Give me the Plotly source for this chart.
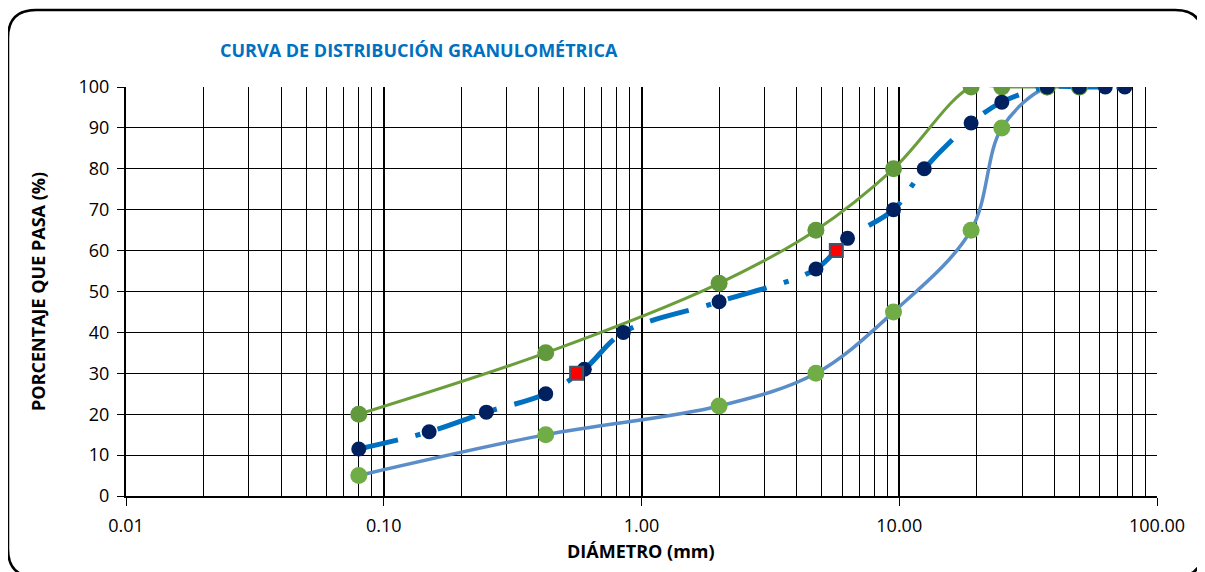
import plotly.graph_objects as go

# ---------------- data ----------------
sample_d = [0.08, 0.15, 0.25, 0.425, 0.6, 0.85, 2.0, 4.75, 6.3, 9.5, 12.5, 19.0, 25.0, 37.5, 50.0, 63.0, 75.0]
sample_p = [11.5, 15.7, 20.5, 25.0, 31.0, 40.0, 47.5, 55.5, 63.0, 70.0, 80.0, 91.2, 96.3, 100, 100, 100, 100]

upper_d = [0.08, 0.425, 2.0, 4.75, 9.5, 19.0, 25.0, 37.5, 50.0]
upper_p = [20, 35, 52, 65, 80, 100, 100, 100, 100]

lower_d = [0.08, 0.425, 2.0, 4.75, 9.5, 19.0, 25.0, 37.5, 50.0]
lower_p = [5, 15, 22, 30, 45, 65, 90, 100, 100]

dx_d = [0.56, 5.7]
dx_p = [30, 60]

x_tickvals = [0.01, 0.1, 1, 10, 100]
x_ticktext = ["0.01", "0.10", "1.00", "10.00", "100.00"]
y_tickvals = [0, 10, 20, 30, 40, 50, 60, 70, 80, 90, 100]

FONT = "Open Sans"
OFF = 8  # page body margin

fig = go.Figure()

# lower limit curve
fig.add_trace(go.Scatter(x=lower_d, y=lower_p, mode="lines",
                         line=dict(color="#5B8EC8", width=3.5, shape="spline", smoothing=1.0),
                         hoverinfo="skip", showlegend=False))
# upper limit curve
fig.add_trace(go.Scatter(x=upper_d, y=upper_p, mode="lines",
                         line=dict(color="#6A9E3A", width=3, shape="spline", smoothing=1.0),
                         hoverinfo="skip", showlegend=False))
# sample curve
fig.add_trace(go.Scatter(x=sample_d, y=sample_p, mode="lines",
                         line=dict(color="#0070C0", width=5, shape="spline", smoothing=1.0,
                                   dash="40px,18px,5px,18px"),
                         hoverinfo="skip", showlegend=False))
# markers
fig.add_trace(go.Scatter(x=lower_d, y=lower_p, mode="markers",
                         marker=dict(color="#70AD47", size=17, line=dict(width=0)),
                         showlegend=False))
fig.add_trace(go.Scatter(x=upper_d, y=upper_p, mode="markers",
                         marker=dict(color="#62993C", size=17, line=dict(width=0)),
                         showlegend=False))
fig.add_trace(go.Scatter(x=sample_d, y=sample_p, mode="markers",
                         marker=dict(color="#002060", size=15, line=dict(width=0)),
                         showlegend=False))
fig.add_trace(go.Scatter(x=dx_d, y=dx_p, mode="markers",
                         marker=dict(color="#FF0000", size=13, symbol="square",
                                     line=dict(color="#44546A", width=2)),
                         showlegend=False))

# plot area geometry in screen px (reference), converted to figure px
L, R, T, B = 126 - OFF, 1157 - OFF, 87 - OFF, 496 - OFF
W, H = 1205, 572
pw, ph = R - L, B - T


def px2paper(x, y):
    x, y = x - OFF, y - OFF
    return (x - L) / pw, (B - y) / ph


# rounded border
x0, y0, x1, y1, r = 8, 10, 1203, 577, 28


def P(x, y):
    px, py = px2paper(x, y)
    return f"{px:.5f},{py:.5f}"


path = (f"M {P(x0 + r, y0)} L {P(x1 - r, y0)} Q {P(x1, y0)} {P(x1, y0 + r)} "
        f"L {P(x1, y1 - r)} Q {P(x1, y1)} {P(x1 - r, y1)} "
        f"L {P(x0 + r, y1)} Q {P(x0, y1)} {P(x0, y1 - r)} "
        f"L {P(x0, y0 + r)} Q {P(x0, y0)} {P(x0 + r, y0)} Z")
fig.add_shape(type="path", path=path, xref="paper", yref="paper",
              line=dict(color="black", width=2.5), layer="below")

# title
tx, ty = px2paper(218, 50)
fig.add_annotation(text="<b>CURVA DE DISTRIBUCIÓN GRANULOMÉTRICA</b>", xref="paper", yref="paper",
                   x=tx, y=ty, xanchor="left", yanchor="middle", showarrow=False,
                   font=dict(family=FONT, size=18, color="#0070C0"))
# axis titles
ax, ay = px2paper(641, 551)
fig.add_annotation(text="<b>DIÁMETRO (mm)</b>", xref="paper", yref="paper",
                   x=ax, y=ay, xanchor="center", yanchor="middle", showarrow=False,
                   font=dict(family=FONT, size=18, color="black"))
bx, by = px2paper(38, 292)
fig.add_annotation(text="<b>PORCENTAJE QUE PASA (%)</b>", xref="paper", yref="paper",
                   x=bx, y=by, xanchor="center", yanchor="middle", showarrow=False, textangle=-90,
                   font=dict(family=FONT, size=18, color="black"))

fig.update_layout(
    width=W, height=H,
    margin=dict(l=L, r=W - R, t=T, b=H - B, pad=0),
    paper_bgcolor="white", plot_bgcolor="white",
    font=dict(family=FONT, size=18, color="black"),
    xaxis=dict(type="log", range=[-2, 2], tickvals=x_tickvals, ticktext=x_ticktext,
               showgrid=True, gridcolor="black", gridwidth=2,
               minor=dict(dtick="D1", showgrid=True, gridcolor="black", gridwidth=1, ticks=""),
               ticks="outside", ticklen=8, tickwidth=1, tickcolor="black",
               showline=True, linecolor="black", linewidth=2, mirror=False,
               zeroline=False, tickfont=dict(family=FONT, size=18), ticklabelstandoff=4),
    yaxis=dict(range=[0, 100], tickvals=y_tickvals,
               showgrid=True, gridcolor="black", gridwidth=1,
               ticks="outside", ticklen=7, tickwidth=1, tickcolor="black",
               showline=True, linecolor="black", linewidth=2,
               zeroline=False, tickfont=dict(family=FONT, size=18), ticklabelstandoff=4),
)

fig.write_html("out.html")
